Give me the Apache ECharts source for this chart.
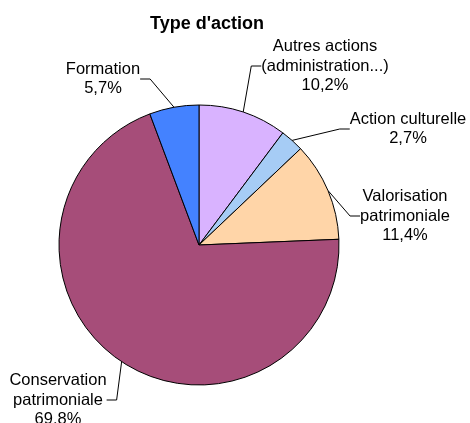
<!DOCTYPE html>
<html>
<head>
<meta charset="utf-8">
<script src="https://cdn.jsdelivr.net/npm/echarts@6/dist/echarts.min.js"></script>
<style>
  html, body { margin: 0; padding: 0; background: #fff; }
  #box { width: 470px; height: 423px; }
</style>
</head>
<body>
<div id="box"></div>
<script>
var categories = ['Autres actions\n(administration...)', 'Action culturelle', 'Valorisation\npatrimoniale', 'Conservation\npatrimoniale', 'Formation'];
var values = [10.2, 2.7, 11.4, 69.8, 5.7];
var pctLabels = ['10,2%', '2,7%', '11,4%', '69.8%', '5,7%'];
var colors = ['#D9B3FF', '#A6CCF5', '#FFD5A8', '#A64D79', '#4482FF'];

// positions des étiquettes (centre du texte)
var labelPos = [[325, 66], [408, 129], [405, 216], [58, 400], [103, 79]];

var myChart = echarts.init(document.getElementById('box'));

var option = {
    animation: false,
    title: {
        text: "Type d'action",
        left: 202,
        top: 10,
        textAlign: 'center',
        textStyle: {
            fontFamily: 'Liberation Sans',
            fontSize: 18,
            fontWeight: 'bold',
            color: '#000'
        }
    },
    series: [{
        type: 'pie',
        center: [199, 245],
        radius: 140,
        startAngle: 90,
        clockwise: true,
        data: categories.map(function (c, i) {
            return { name: c, value: values[i], itemStyle: { color: colors[i] } };
        }),
        itemStyle: {
            borderColor: '#000',
            borderWidth: 1
        },
        label: {
            show: true,
            position: 'outside',
            fontFamily: 'Liberation Sans',
            fontSize: 16.5,
            lineHeight: 19.5,
            color: '#000',
            align: 'center',
            overflow: 'none',
            edgeDistance: 0,
            formatter: function (p) {
                return p.name + '\n' + pctLabels[p.dataIndex];
            }
        },
        labelLine: {
            show: true,
            length: 10,
            length2: 10,
            lineStyle: { color: '#000', width: 1 }
        },
        labelLayout: function (params) {
            var pos = labelPos[params.dataIndex];
            return {
                x: pos[0],
                y: pos[1],
                align: 'center',
                verticalAlign: 'middle'
            };
        },
        emphasis: { disabled: true }
    }]
};

myChart.setOption(option);
</script>
</body>
</html>
